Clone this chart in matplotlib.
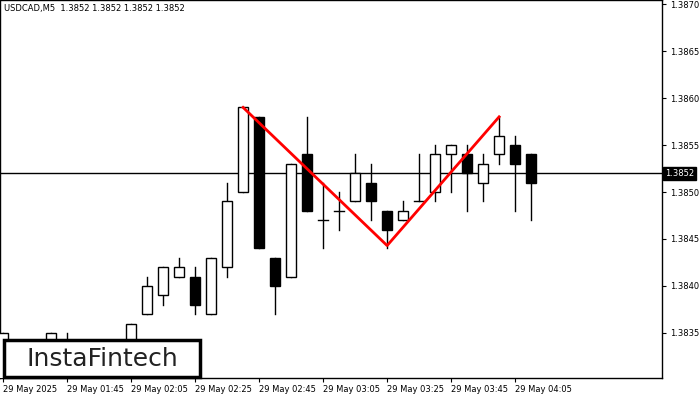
import matplotlib
matplotlib.use('Agg')
import matplotlib.pyplot as plt
from matplotlib.patches import Rectangle

# 5-minute candles from 01:25, o/h/l/c
opens  = [1.3830, 1.3832, 1.3833, 1.3832, 1.3833, 1.3831, 1.3832, 1.3833, 1.3832, 1.3837,
          1.3839, 1.3841, 1.3841, 1.3837, 1.3842, 1.3850, 1.3858, 1.3843, 1.3841, 1.3854,
          1.3847, 1.3848, 1.3849, 1.3851, 1.3848, 1.3847, 1.3849, 1.3850, 1.3854, 1.3854,
          1.3851, 1.3854, 1.3855, 1.3854]
highs  = [1.3835, 1.3834, 1.3834, 1.3835, 1.3835, 1.3833, 1.3834, 1.3834, 1.3836, 1.3841,
          1.3842, 1.3843, 1.3842, 1.3843, 1.3851, 1.3859, 1.3858, 1.3843, 1.3853, 1.3858,
          1.3851, 1.3850, 1.3854, 1.3853, 1.3848, 1.3849, 1.3854, 1.3855, 1.3855, 1.3855,
          1.3854, 1.3858, 1.3856, 1.3854]
lows   = [1.3828, 1.3830, 1.3831, 1.3831, 1.3830, 1.3830, 1.3831, 1.3831, 1.3831, 1.3837,
          1.3838, 1.3841, 1.3837, 1.3837, 1.3841, 1.3850, 1.3844, 1.3837, 1.3841, 1.3848,
          1.3844, 1.3846, 1.3849, 1.3847, 1.3844, 1.3847, 1.3849, 1.3849, 1.3850, 1.3848,
          1.3849, 1.3853, 1.3848, 1.3847]
closes = [1.3835, 1.3833, 1.3832, 1.3835, 1.3831, 1.3832, 1.3833, 1.3832, 1.3836, 1.3840,
          1.3842, 1.3842, 1.3838, 1.3843, 1.3849, 1.3859, 1.3844, 1.3840, 1.3853, 1.3848,
          1.3847, 1.3848, 1.3852, 1.3849, 1.3846, 1.3848, 1.3849, 1.3854, 1.3855, 1.3852,
          1.3853, 1.3856, 1.3853, 1.3851]

# double top pattern: (candle index, price)
pattern_idx = [15, 24, 31]
pattern_px  = [1.3859, 1.38443, 1.3858]

last_price = 1.3852
time_labels = ['29 May 2025', '29 May 01:45', '29 May 02:05', '29 May 02:25', '29 May 02:45',
               '29 May 03:05', '29 May 03:25', '29 May 03:45', '29 May 04:05']
price_ticks = [1.3835, 1.3840, 1.3845, 1.3850, 1.3855, 1.3860, 1.3865, 1.3870]

plt.rcParams['font.family'] = ['DejaVu Sans']
fig = plt.figure(figsize=(7, 4), dpi=100)
ax = fig.add_axes([0, 0.055, 0.946, 0.945])

w = 0.6
for i, (o, h, l, c) in enumerate(zip(opens, highs, lows, closes)):
    ax.plot([i, i], [l, h], color='black', lw=1, zorder=2)
    if o == c:
        ax.plot([i - w / 2, i + w / 2], [o, o], color='black', lw=1, zorder=3)
        continue
    fc = 'white' if c > o else 'black'
    ax.add_patch(Rectangle((i - w / 2, min(o, c)), w, abs(c - o), facecolor=fc,
                           edgecolor='black', lw=1, zorder=3))

ax.axhline(last_price, color='black', lw=1, zorder=1)
ax.plot(pattern_idx, pattern_px, color='red', lw=2, zorder=4)

ax.set_xlim(-0.19, 41.19)
ax.set_ylim(1.383021, 1.387043)

ax.yaxis.tick_right()
ax.set_yticks(price_ticks)
ax.set_yticklabels([f'{p:.4f}' for p in price_ticks], fontsize=6)
ax.tick_params(axis='y', length=3, pad=3)
ax.set_xticks([4 * k for k in range(len(time_labels))])
ax.set_xticklabels(time_labels, fontsize=6, ha='left')
ax.tick_params(axis='x', length=3, pad=2)
for s in ax.spines.values():
    s.set_linewidth(1)

ax.text(1.004, last_price, f'{last_price:.4f}', transform=ax.get_yaxis_transform(),
        fontsize=6, color='white', va='center', ha='left',
        bbox=dict(boxstyle='square,pad=0.25', fc='black', ec='black'), zorder=10)
ax.text(0.006, 0.99, 'USDCAD,M5  1.3852 1.3852 1.3852 1.3852', transform=ax.transAxes,
        fontsize=6, va='top', ha='left')

# logo box, figure pixels 3..200 x 340..378
fig.patches.append(Rectangle((4 / 700, 23 / 400), 196 / 700, 37 / 400, transform=fig.transFigure,
                             fc='white', ec='black', lw=2.5, zorder=20))
fig.text(102 / 700, 41 / 400, 'InstaFintech', fontsize=18, color='#222222',
         ha='center', va='center', zorder=21)

fig.savefig('out.png', dpi=100)
